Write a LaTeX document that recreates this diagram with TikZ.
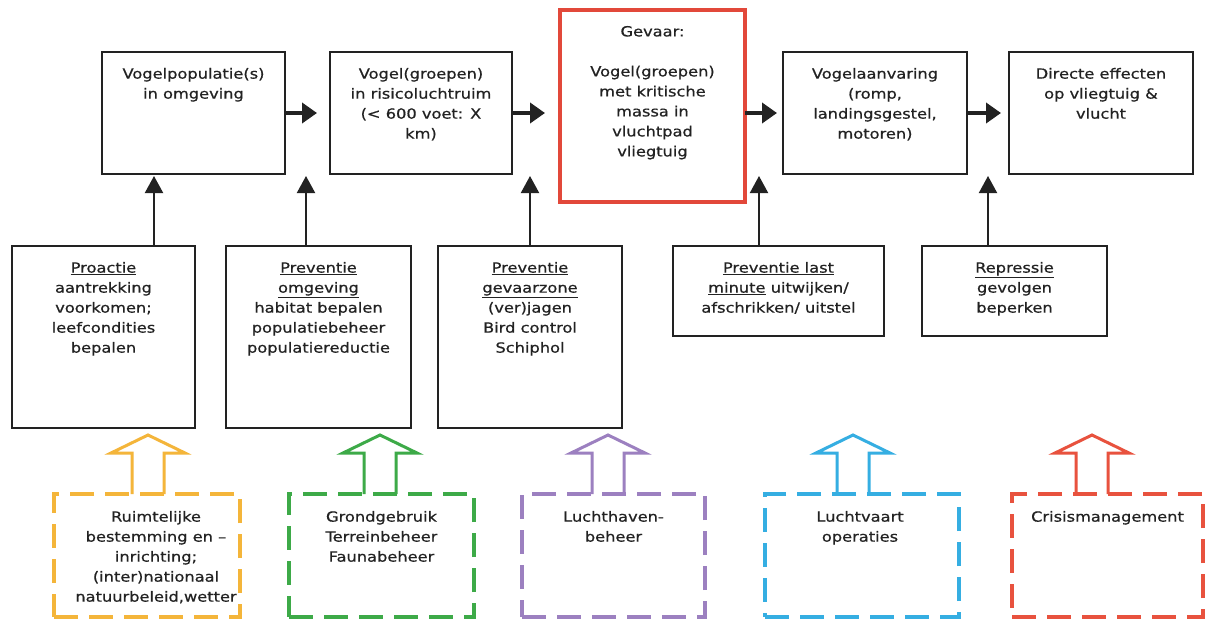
\documentclass[tikz,border=0pt]{standalone}
\usepackage{fontspec}
\setmainfont{DejaVu Sans}[FakeStretch=1.16,FakeBold=0.6]
\usetikzlibrary{arrows.meta,calc}
\definecolor{cOr}{HTML}{F4B53A}
\definecolor{cGr}{HTML}{3DAA48}
\definecolor{cPu}{HTML}{9C80C0}
\definecolor{cBl}{HTML}{35AEE2}
\definecolor{cRe}{HTML}{E8523E}
\definecolor{cRb}{HTML}{E2483A}
\definecolor{ink}{HTML}{222222}
\newcommand\mkbox[6]{\node[#6, minimum width={#4-#2}, minimum height={#5-#3}] (#1) at ({(#2+#4)/2},{(#3+#5)/2}) {};}
\newcommand\hollowarrow[2]{\draw[hollow, draw=#2] (#1-16,494) -- (#1-16,453) -- (#1-37,453) -- (#1,435) -- (#1+37,453) -- (#1+16,453) -- (#1+16,494);}
\begin{document}
\begin{tikzpicture}[x=1pt,y=-1pt,
  every node/.style={inner sep=0pt, outer sep=0pt},
  blackbox/.style={draw=ink, line width=2.2pt, rectangle},
  redbox/.style={draw=cRb, line width=3.5pt, rectangle},
  dbox/.style={draw=#1, line width=4pt, rectangle, dash pattern=on 24pt off 11pt},
  txt/.style={align=center, font=\fontsize{14}{20}\selectfont, text=ink, anchor=north},
  harr/.style={draw=ink, line width=4pt, -{Triangle[length=15pt,width=20pt]}},
  varr/.style={draw=ink, line width=2pt, -{Triangle[length=17pt,width=18pt]}},
  hollow/.style={line width=3pt, line join=miter}
]
\useasboundingbox (0,0) rectangle (1208,619);
\fill[white] (0,0) rectangle (1208,619);

% top row
\mkbox{b1}{102}{52}{285}{174}{blackbox}
\mkbox{b2}{330}{52}{512}{174}{blackbox}
\mkbox{rb}{560}{10}{745}{202}{redbox}
\mkbox{b4}{783}{52}{967}{174}{blackbox}
\mkbox{b5}{1009}{52}{1193}{174}{blackbox}

\node[txt] (t1) at ($(b1.north)+(0,16)$) {Vogelpopulatie(s)\\in omgeving};
\node[txt] (t2) at ($(b2.north)+(0,16)$) {Vogel(groepen)\\in risicoluchtruim\\(< 600 voet: X\\km)};
\node[txt] (tr) at ($(rb.north)+(0,16)$) {Gevaar:\\[20pt]Vogel(groepen)\\met kritische\\massa in\\vluchtpad\\vliegtuig};
\node[txt] (t4) at ($(b4.north)+(0,16)$) {Vogelaanvaring\\(romp,\\landingsgestel,\\motoren)};
\node[txt] (t5) at ($(b5.north)+(0,16)$) {Directe effecten\\op vliegtuig \&\\vlucht};

\draw[harr, shorten >=13pt] (b1.east) -- (b2.west);
\draw[harr, shorten >=15pt] (b2.east) -- (b2.east -| rb.west);
\draw[harr, shorten >=6pt] (b4.west -| rb.east) -- (b4.west);
\draw[harr, shorten >=8pt] (b4.east) -- (b5.west);

% middle row
\mkbox{m1}{12}{246}{195}{428}{blackbox}
\mkbox{m2}{226}{246}{411}{428}{blackbox}
\mkbox{m3}{438}{246}{622}{428}{blackbox}
\mkbox{m4}{673}{246}{884}{336}{blackbox}
\mkbox{m5}{922}{246}{1107}{336}{blackbox}

\node[txt] (u1) at ($(m1.north)+(0,16)$) {\underline{Proactie}\\aantrekking\\voorkomen;\\leefcondities\\bepalen};
\node[txt] (u2) at ($(m2.north)+(0,16)$) {\underline{Preventie}\\\underline{omgeving}\\habitat bepalen\\populatiebeheer\\populatiereductie};
\node[txt] (u3) at ($(m3.north)+(0,16)$) {\underline{Preventie}\\\underline{gevaarzone}\\(ver)jagen\\Bird control\\Schiphol};
\node[txt] (u4) at ($(m4.north)+(0,16)$) {\underline{Preventie last}\\\underline{minute} uitwijken/\\afschrikken/ uitstel};
\node[txt] (u5) at ($(m5.north)+(0,16)$) {\underline{Repressie}\\gevolgen\\beperken};

\coordinate (p1) at (154,176);
\coordinate (p2) at (306,176);
\coordinate (p3) at (530,176);
\coordinate (p4) at (759,176);
\coordinate (p5) at (988,176);
\draw[varr] (m1.north -| p1) -- (p1);
\draw[varr] (m2.north -| p2) -- (p2);
\draw[varr] (m3.north -| p3) -- (p3);
\draw[varr] (m4.north -| p4) -- (p4);
\draw[varr] (m5.north -| p5) -- (p5);

% bottom row
\mkbox{d1}{54}{494}{240}{617}{dbox=cOr}
\mkbox{d2}{289}{494}{474}{617}{dbox=cGr}
\mkbox{d3}{522}{494}{705}{617}{dbox=cPu}
\mkbox{d4}{765}{494}{959}{617}{dbox=cBl}
\mkbox{d5}{1012}{494}{1203}{617}{dbox=cRe}

\node[txt] (v1) at ($(d1.north)+(9,17)$) {Ruimtelijke\\bestemming en –\\inrichting;\\(inter)nationaal\\natuurbeleid,wetter};
\node[txt] (v2) at ($(d2.north)+(0,17)$) {Grondgebruik\\Terreinbeheer\\Faunabeheer};
\node[txt] (v3) at ($(d3.north)+(0,17)$) {Luchthaven-\\beheer};
\node[txt] (v4) at ($(d4.north)+(-2,17)$) {Luchtvaart\\operaties};
\node[txt] (v5) at ($(d5.north)+(0,17)$) {Crisismanagement};

\hollowarrow{148}{cOr}
\hollowarrow{380}{cGr}
\hollowarrow{608}{cPu}
\hollowarrow{853}{cBl}
\hollowarrow{1092}{cRe}
\end{tikzpicture}
\end{document}
